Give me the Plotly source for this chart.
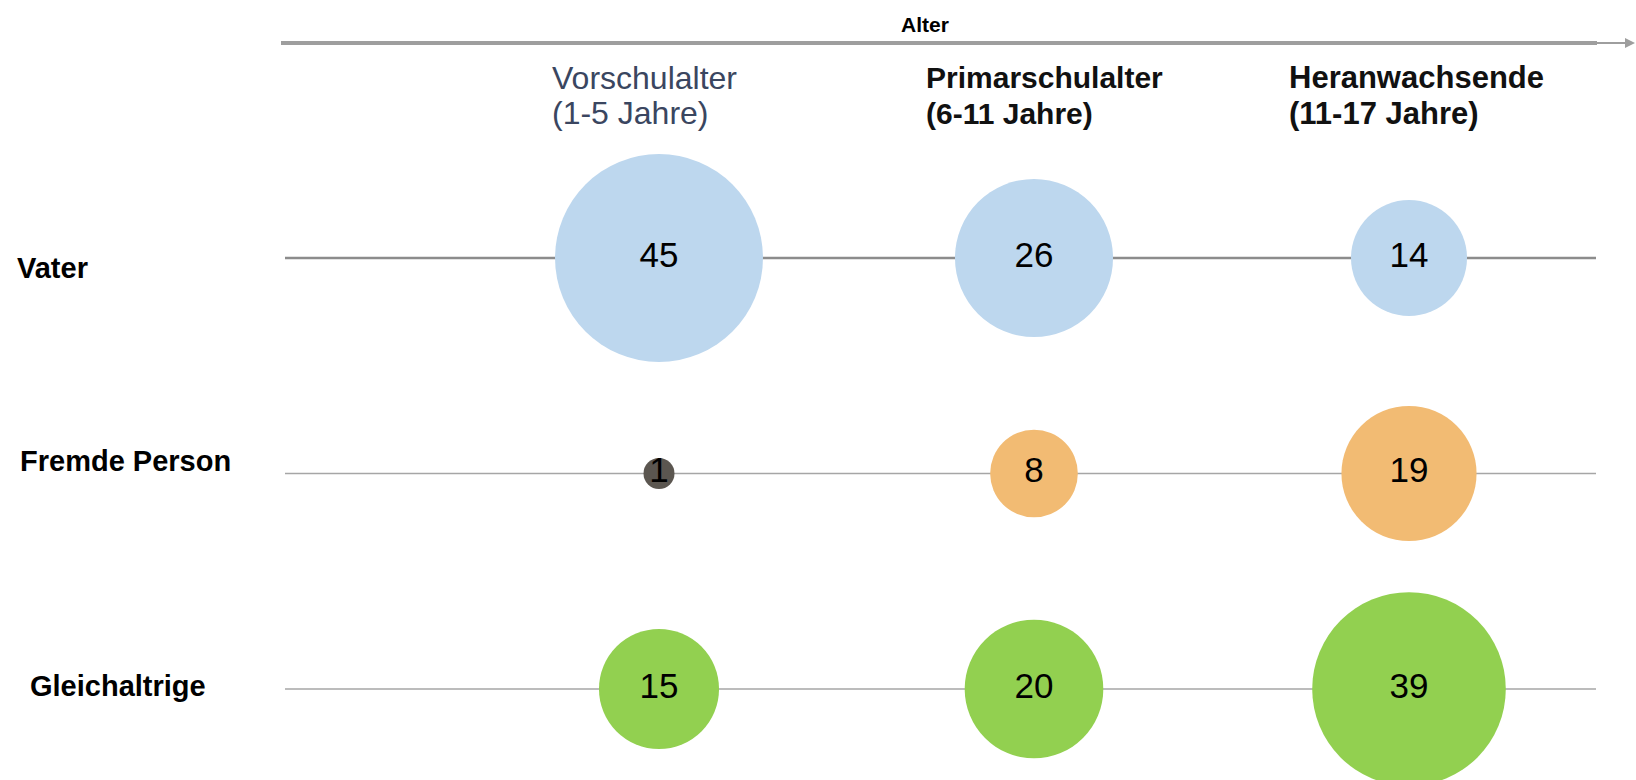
import plotly.graph_objects as go

# ---- data ----
age_groups = ["Vorschulalter", "Primarschulalter", "Heranwachsende"]
age_ranges = ["(1-5 Jahre)", "(6-11 Jahre)", "(11-17 Jahre)"]
persons = ["Vater", "Fremde Person", "Gleichaltrige"]
vater = [45, 26, 14]
fremde_person = [1, 8, 19]
gleichaltrige = [15, 20, 39]
axis_title = "Alter"

W, H = 1636, 780
FONT = "Liberation Sans, Arial, sans-serif"

series = [
    (persons[0], vater, ["#BDD7EE"] * 3),
    (persons[1], fremde_person, ["#5B5650", "#F2BB73", "#F2BB73"]),
    (persons[2], gleichaltrige, ["#92D050"] * 3),
]

fig = go.Figure()
for name, vals, cols in series:
    fig.add_trace(go.Scatter(
        x=age_groups, y=[name] * len(vals),
        mode="markers+text",
        text=[str(v) for v in vals],
        textposition="middle center",
        textfont=dict(family=FONT, size=35, color="#000000"),
        marker=dict(size=vals, sizemode="area", sizeref=2 / 961,
                    color=cols, line=dict(width=0), opacity=1),
        hoverinfo="skip", showlegend=False, cliponaxis=False,
    ))

# axis geometry (pixels -> data)
col_px0, col_step = 659, 375
row_px0, row_step = 258, 215.5
x0 = -col_px0 / col_step
x1 = x0 + W / col_step
ytop = -row_px0 / row_step
ybot = ytop + H / row_step

shapes = []
# row lines
for i, p in enumerate(persons):
    shapes.append(dict(type="line", xref="paper", yref="y",
                       x0=285 / W, x1=1596 / W, y0=i, y1=i,
                       line=dict(color="#8C8C8C" if i == 0 else "#A6A6A6",
                                 width=2.5 if i == 0 else 1.5),
                       layer="below"))
# top age arrow (thick part)
shapes.append(dict(type="line", xref="paper", yref="paper",
                   x0=281 / W, x1=1597 / W, y0=1 - 43 / H, y1=1 - 43 / H,
                   line=dict(color="#9E9E9E", width=4)))

annotations = []
# thin arrow tip
annotations.append(dict(xref="paper", yref="paper", x=1640 / W, y=1 - 43 / H,
                        ax=-45, ay=0, axref="pixel", ayref="pixel",
                        text="", showarrow=True, arrowhead=2, arrowsize=1,
                        arrowwidth=2, arrowcolor="#9E9E9E"))
annotations.append(dict(xref="paper", yref="paper", x=925 / W, y=1 - 25 / H,
                        text="<b>" + axis_title + "</b>", showarrow=False,
                        xanchor="center", yanchor="middle",
                        font=dict(family=FONT, size=21, color="#000000")))
# headers
header_shift = [-109, -110, -122]
header_size = [32, 30, 31]
for i, (g, r) in enumerate(zip(age_groups, age_ranges)):
    if i == 0:
        t1, t2, col = g, r, "#3A4660"
    else:
        t1, t2, col = "<b>" + g + "</b>", "<b>" + r + "</b>", "#111111"
    for txt, ypx in ((t1, 78), (t2, 113)):
        annotations.append(dict(xref="x", yref="paper", x=i, y=1 - ypx / H,
                                xshift=header_shift[i], text=txt, showarrow=False,
                                xanchor="left", yanchor="middle",
                                font=dict(family=FONT, size=header_size[i], color=col)))
# row labels
label_x = [15, 18, 28]
label_shift = [-10, 13, 3]
for i, p in enumerate(persons):
    annotations.append(dict(xref="paper", yref="y", x=label_x[i] / W, y=i,
                            yshift=label_shift[i], text="<b>" + p + "</b>",
                            showarrow=False, xanchor="left", yanchor="middle",
                            font=dict(family=FONT, size=29, color="#000000")))

fig.update_layout(
    width=W, height=H,
    margin=dict(l=0, r=0, t=0, b=0),
    paper_bgcolor="white", plot_bgcolor="white",
    xaxis=dict(type="category", range=[x0, x1], visible=False, fixedrange=True),
    yaxis=dict(type="category", categoryorder="array", categoryarray=persons,
               range=[ybot, ytop], visible=False, fixedrange=True),
    shapes=shapes, annotations=annotations,
)

fig.write_html("out.html", config={"displayModeBar": False},
               post_script="document.body.style.margin='0';document.body.style.overflow='hidden';")
